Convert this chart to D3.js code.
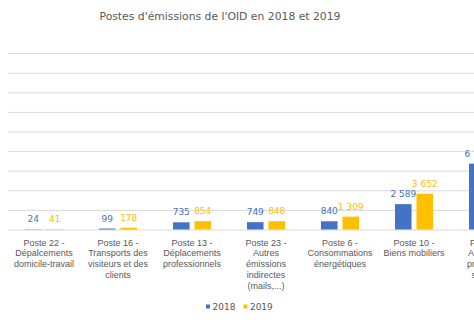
<!DOCTYPE html>
<html lang="fr">
<head>
<meta charset="utf-8">
<script src="https://cdn.jsdelivr.net/npm/d3@7"></script>
<style>
  body { margin: 0; background: #fff; }
  svg { display: block; font-family: "DejaVu Sans", sans-serif; }
</style>
</head>
<body>
<div id="chart"></div>
<script>
// Postes (categories), one string per label, "\n" marks the line breaks
const postes = [
  "Poste 22 -\nDépalcements\ndomicile-travail",
  "Poste 16 -\nTransports des\nvisiteurs et des\nclients",
  "Poste 13 -\nDéplacements\nprofessionnels",
  "Poste 23 -\nAutres\némissions\nindirectes\n(mails,...)",
  "Poste 6 -\nConsommations\nénergétiques",
  "Poste 10 -\nBiens mobiliers",
  "Poste 9 -\nAchats de\nproduits et\nservices"
];
const years = ["2018", "2019"];
const values2018 = [24, 99, 735, 749, 840, 2589, 6720];
const values2019 = [41, 178, 854, 848, 1309, 3652, 6950];
const yTicks = [0, 2000, 4000, 6000, 8000, 10000, 12000, 14000, 16000, 18000];
const colors = ["#4472C4", "#FFC000"];

const width = 474, height = 324;
const plotLeft = 7, bandW = 74, plotBottom = 229.5, plotTop = 53.1;

const frFormat = d3.formatLocale({
  decimal: ",", thousands: "\u00a0", grouping: [3], currency: ["", " €"]
}).format(",d");

const svg = d3.select("#chart").append("svg")
  .attr("width", width)
  .attr("height", height);

// title
svg.append("text")
  .attr("x", 220)
  .attr("y", 19.8)
  .attr("text-anchor", "middle")
  .attr("font-size", 10.8)
  .attr("fill", "#595959")
  .text("Postes d'émissions de l'OID en 2018 et 2019");

// scales
const x0 = d3.scaleBand()
  .domain(postes)
  .range([plotLeft, plotLeft + bandW * postes.length])
  .padding(0);
const x1 = d3.scaleBand()
  .domain(years)
  .range([18, 56])
  .paddingInner(0.23);
const y = d3.scaleLinear()
  .domain([0, d3.max(yTicks)])
  .range([plotBottom, plotTop]);

// gridlines
const grid = svg.append("g")
  .attr("transform", `translate(${plotLeft + 1}, 0)`)
  .call(d3.axisLeft(y).tickValues(yTicks).tickSize(-(width - plotLeft - 1)).tickFormat(""));
grid.select(".domain").remove();
grid.selectAll(".tick line").attr("stroke", "#d9d9d9").attr("stroke-width", 1);

// category labels
const xAxis = svg.append("g")
  .attr("transform", `translate(0, ${plotBottom})`)
  .call(d3.axisBottom(x0).tickSize(0).tickFormat(""));
xAxis.select(".domain").remove();
xAxis.selectAll(".tick").each(function(d) {
  const t = d3.select(this).append("text")
    .attr("y", 16)
    .attr("text-anchor", "middle")
    .attr("font-size", 9)
    .attr("fill", "#595959");
  d.split("\n").forEach((line, i) => {
    t.append("tspan").attr("x", 0).attr("dy", i === 0 ? 0 : 10.9).text(line);
  });
});

// bars and value labels
const rows = postes.map((p, i) => ({ poste: p, vals: [values2018[i], values2019[i]] }));
const groups = svg.selectAll("g.poste")
  .data(rows)
  .enter().append("g")
  .attr("class", "poste")
  .attr("transform", d => `translate(${x0(d.poste)}, 0)`);

const cells = groups.selectAll("g.cell")
  .data(d => d.vals.map((v, j) => ({ year: years[j], value: v, color: colors[j] })))
  .enter().append("g")
  .attr("class", "cell");

cells.append("rect")
  .attr("x", d => x1(d.year))
  .attr("y", d => y(d.value))
  .attr("width", x1.bandwidth())
  .attr("height", d => plotBottom - y(d.value))
  .attr("fill", d => d.color);

cells.append("text")
  .attr("x", d => x1(d.year) + x1.bandwidth() / 2)
  .attr("y", d => y(d.value) - 7)
  .attr("text-anchor", "middle")
  .attr("font-size", 9)
  .attr("fill", d => d.color)
  .text(d => frFormat(d.value));

// legend
const legend = svg.append("g").attr("transform", "translate(206, 307)");
let lx = 0;
years.forEach((yr, i) => {
  const item = legend.append("g").attr("transform", `translate(${lx}, 0)`);
  item.append("rect")
    .attr("x", 0).attr("y", -2.5)
    .attr("width", 4).attr("height", 4)
    .attr("fill", colors[i]);
  const txt = item.append("text")
    .attr("x", 6.5).attr("y", 3.3)
    .attr("font-size", 9)
    .attr("fill", "#595959")
    .text(yr);
  lx += 6.5 + txt.node().getComputedTextLength() + 8;
});
</script>
</body>
</html>
